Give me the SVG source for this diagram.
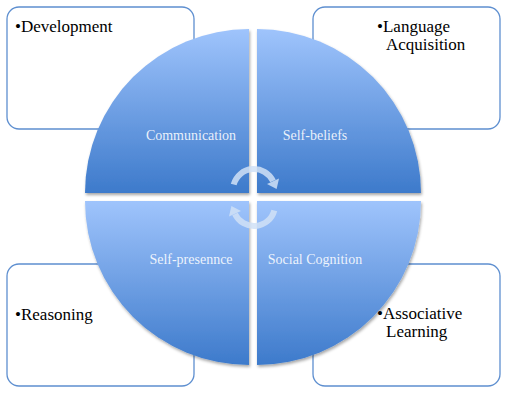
<svg xmlns="http://www.w3.org/2000/svg" width="507" height="417" viewBox="0 0 507 417">
<defs>
<linearGradient id="qg" x1="0" y1="0" x2="0" y2="1">
<stop offset="0" stop-color="#9fc4fc"/>
<stop offset="1" stop-color="#3d7acb"/>
</linearGradient>
<filter id="sh" x="-10%" y="-10%" width="130%" height="130%">
<feDropShadow dx="1" dy="2" stdDeviation="1.5" flood-color="#000" flood-opacity="0.35"/>
</filter>
</defs>
<style>
.box{fill:#fff;stroke:#5e8fd0;stroke-width:1.3}
.bt{font-family:"Liberation Serif",serif;font-size:17px;fill:#000}
.q{fill:url(#qg);filter:url(#sh)}
.qt{font-family:"Liberation Serif",serif;font-size:14px;fill:#fff;fill-opacity:0.88;text-anchor:middle}
.arc{fill:none;stroke:#d0e0f6;stroke-opacity:0.85;stroke-width:6}
.ah{fill:#d0e0f6;fill-opacity:0.85}
</style>
<g id="box-development">
<rect class="box" x="7" y="7" width="187" height="122" rx="12"/>
<text class="bt" x="15" y="32">•Development</text>
</g>
<g id="box-language">
<rect class="box" x="313" y="7" width="187" height="122" rx="12"/>
<text class="bt" x="377" y="32">•Language</text>
<text class="bt" x="386" y="50">Acquisition</text>
</g>
<g id="box-reasoning">
<rect class="box" x="7" y="264" width="187" height="122" rx="12"/>
<text class="bt" x="15" y="320">•Reasoning</text>
</g>
<g id="box-associative">
<rect class="box" x="313" y="264" width="187" height="122" rx="12"/>
<text class="bt" x="377" y="319">•Associative</text>
<text class="bt" x="386" y="337">Learning</text>
</g>
<g id="q-communication">
<path class="q" d="M249,193 H85 A164,164 0 0 1 249,29 Z"/>
<text class="qt" x="191" y="140">Communication</text>
</g>
<g id="q-selfbeliefs">
<path class="q" d="M257,193 V29 A164,164 0 0 1 421,193 Z"/>
<text class="qt" x="315" y="140">Self-beliefs</text>
</g>
<g id="q-selfpresence">
<path class="q" d="M249,201 V365 A164,164 0 0 1 85,201 Z"/>
<text class="qt" x="191" y="264">Self-presennce</text>
</g>
<g id="q-socialcognition">
<path class="q" d="M257,201 H421 A164,164 0 0 1 257,365 Z"/>
<text class="qt" x="315" y="264">Social Cognition</text>
</g>
<g id="connectors">
<g id="arrow-top">
<path class="arc" d="M233.7,184.6 A21,21 0 0 1 273,181.1"/>
<polygon class="ah" points="279,178.4 267,184 276.6,189"/>
</g>
<g id="arrow-bottom" transform="rotate(180 254 197.5)">
<path class="arc" d="M233.7,184.6 A21,21 0 0 1 273,181.1"/>
<polygon class="ah" points="279,178.4 267,184 276.6,189"/>
</g>
</g>
</svg>
